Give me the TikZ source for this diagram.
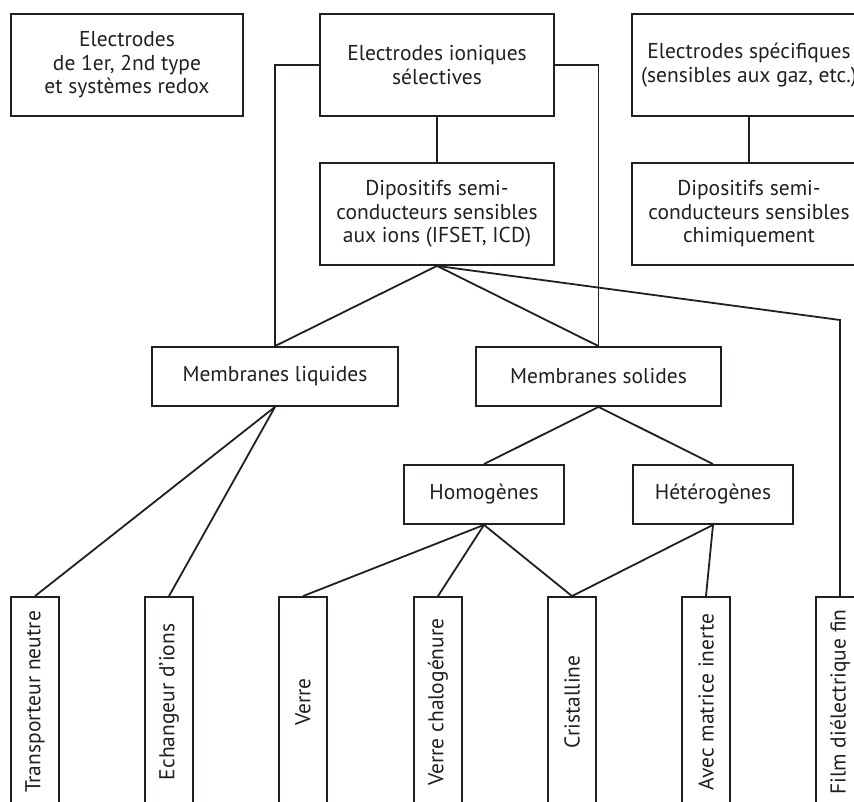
\documentclass[tikz,border=0pt]{standalone}
\usepackage{fontspec}
\setmainfont{PT Sans}
\definecolor{ink}{HTML}{231F20}
\begin{document}
\begin{tikzpicture}[x=1pt,y=-1pt,
  box/.style={draw=ink,line width=1.8pt,text=ink,inner sep=0pt,align=center,
    font=\fontsize{21.5}{23.5}\selectfont},
  bigbox/.style={box,minimum width=234pt,minimum height=102pt},
  midbox/.style={box,minimum height=59pt},
  leaf/.style={box,minimum width=48pt,minimum height=210pt},
  link/.style={draw=ink,line width=1.8pt}]
\useasboundingbox (0,0) rectangle (854,802);
\clip (0,0) rectangle (854,802);
\node[bigbox,minimum width=232pt] (e1) at (127,65) {Electrodes\\de 1er, 2nd type\\et systèmes redox};
\node[bigbox] (e2) at (437,65) {Electrodes ioniques\\sélectives};
\node[bigbox] (e3) at (749,65) {Electrodes spécifiques\\(sensibles aux gaz, etc.)};
\node[bigbox] (d2) at (437,214) {Dipositifs semi-\\conducteurs sensibles\\aux ions (IFSET, ICD)};
\node[bigbox] (d3) at (749,214) {Dipositifs semi-\\conducteurs sensibles\\chimiquement};
\node[midbox,minimum width=246pt] (ml) at (275,376.5) {Membranes liquides};
\node[midbox,minimum width=245pt] (ms) at (598.5,376.5) {Membranes solides};
\node[midbox,minimum width=160pt] (ho) at (484,494.5) {Homogènes};
\node[midbox,minimum width=160pt] (he) at (713,494.5) {Hétérogènes};
\node[leaf] (tn) at (35,702) {\rotatebox{90}{Transporteur neutre}};
\node[leaf] (ei) at (169,702) {\rotatebox{90}{Echangeur d’ions}};
\node[leaf] (ve) at (303,702) {\rotatebox{90}{Verre}};
\node[leaf] (vc) at (438,702) {\rotatebox{90}{Verre chalogénure}};
\node[leaf] (cr) at (572,702) {\rotatebox{90}{Cristalline}};
\node[leaf] (am) at (706,702) {\rotatebox{90}{Avec matrice inerte}};
\node[leaf] (fi) at (840,702) {\rotatebox{90}{Film diélectrique fin}};
\coordinate (fc) at (840,320);
\draw[link] (e2.west) -| (ml.north);
\draw[link] (e2.east) -| (ms.north);
\draw[link] (e2.south) -- (d2.north);
\draw[link] (e3.south) -- (d3.north);
\draw[link] (d2.south) -- (ml.north);
\draw[link] (d2.south) -- (ms.north);
\draw[link] (d2.south) -- (fc) -- (fi.north);
\draw[link] (ml.south) -- (tn.north);
\draw[link] (ml.south) -- (ei.north);
\draw[link] (ms.south) -- (ho.north);
\draw[link] (ms.south) -- (he.north);
\draw[link] (ho.south) -- (ve.north);
\draw[link] (ho.south) -- (vc.north);
\draw[link] (ho.south) -- (cr.north);
\draw[link] (he.south) -- (cr.north);
\draw[link] (he.south) -- (am.north);
\end{tikzpicture}
\end{document}
